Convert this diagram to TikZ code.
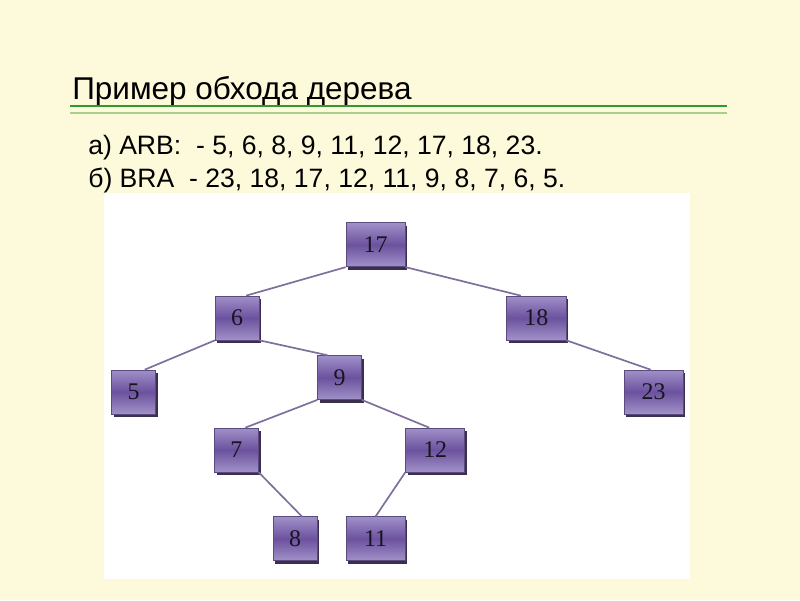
\documentclass[tikz,border=0pt]{standalone}
\usepackage{fontspec}
\usepackage{xcolor}
\usepackage{tikz}
\setmainfont{Liberation Serif}
\newfontfamily\headfont{Liberation Sans}
\usetikzlibrary{positioning,calc,shadows}
\definecolor{paper}{HTML}{FDFADB}
\definecolor{rule}{HTML}{2F9A2F}
\definecolor{ruleLite}{HTML}{A9D08F}
\definecolor{boxTop}{HTML}{A090C8}
\definecolor{boxMid}{HTML}{6C529E}
\definecolor{boxBot}{HTML}{A192C8}
\definecolor{boxEdge}{HTML}{5A4A7E}
\definecolor{boxShade}{HTML}{3A2F4E}
\definecolor{link}{HTML}{7E6F9C}
\definecolor{ink}{HTML}{18141F}
\tikzset{
  key/.style={draw=boxEdge, line width=0.5pt, top color=boxTop, bottom color=boxBot,
              middle color=boxMid, minimum width=1.1cm, minimum height=1.1cm,
              inner sep=0pt, font=\fontsize{17}{19}\selectfont\color{ink},
              drop shadow={shadow xshift=1.6pt, shadow yshift=-2.2pt, fill=boxShade, opacity=1}},
  wide/.style={key, minimum width=1.48cm},
  link/.style={draw=link, line width=1.2pt},
  heading/.style={anchor=base west, inner sep=0pt, font=\headfont\fontsize{22.4}{27}\selectfont},
  walk/.style={anchor=base west, inner sep=0pt, font=\headfont\fontsize{18.9}{23}\selectfont}
}

\begin{document}
\begin{tikzpicture}
    \fill[paper] (0,0) rectangle (20,15);
    \useasboundingbox (0,0) rectangle (20,15);
    \fill[white] (2.6,0.525) rectangle (17.25,10.175);

    % title and rules
    \node[heading] (title) at (1.8,12.5) {Пример обхода дерева};
    \draw[rule, line width=2.1pt] (1.75,12.35) -- (18.175,12.35);
    \draw[ruleLite, line width=1.4pt] (1.75,12.175) -- (18.175,12.175);

    \node[walk] (arb) at (2.2,11.125) {а) ARB:\ \ - 5, 6, 8, 9, 11, 12, 17, 18, 23.};
    \node[walk] (bra) at (2.2,10.3) {б) BRA\ \ - 23, 18, 17, 12, 11, 9, 8, 7, 6, 5.};

    % tree
    \node[wide] (n17) at (9.39,8.88) {17};
    \node[key]  (n6)  at (5.93,7.05) {6};
    \node[wide] (n18) at (13.41,7.05) {18};
    \node[key]  (n5)  at (3.34,5.2) {5};
    \node[key]  (n9)  at (8.49,5.56) {9};
    \node[wide] (n23) at (16.34,5.2) {23};
    \node[key]  (n7)  at (5.91,3.75) {7};
    \node[wide] (n12) at (10.88,3.75) {12};
    \node[key]  (n8)  at (7.38,1.53) {8};
    \node[wide] (n11) at (9.39,1.53) {11};

    \foreach \p/\a/\c/\f in {n17/south west/n6/0.7, n17/south east/n18/0.24,
                             n6/south west/n5/0.75, n6/south east/n9/0.23,
                             n18/south east/n23/0.45, n9/south west/n7/0.7,
                             n9/south east/n12/0.4, n7/south east/n8/0.65,
                             n12/south west/n11/0.5}
      \draw[link] (\p.\a) -- ($(\c.north west)!\f!(\c.north east)$);
\end{tikzpicture}
\end{document}
